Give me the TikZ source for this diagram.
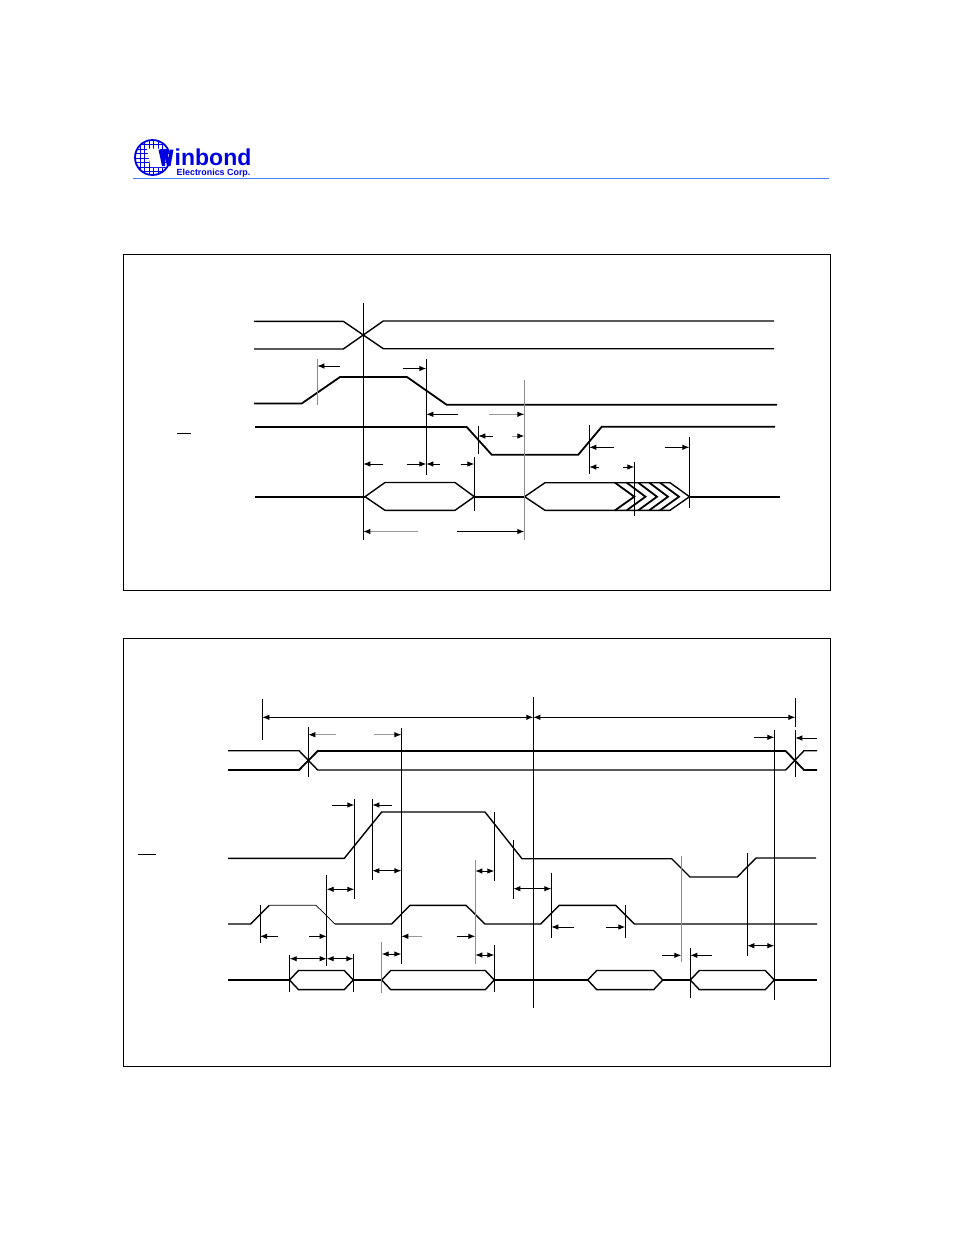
\documentclass[tikz,border=0pt]{standalone}
\usepackage{fontspec}
\setmainfont{Liberation Sans}
\usetikzlibrary{arrows.meta}
\definecolor{wbblue}{RGB}{0,0,225}
\definecolor{wbrule}{RGB}{70,130,240}
\tikzset{
	panel/.style={draw=black,line width=0.7pt},
	sig/.style={draw=black,line width=1.4pt},
	thick sig/.style={draw=black,line width=1.8pt},
	guide/.style={draw=black,line width=0.9pt},
	pale/.style={draw=black!45,line width=0.9pt},
	dim/.style={draw=black,line width=0.9pt,-{Latex[length=7pt,width=5.5pt]}},
	dimpale/.style={draw=black!40,line width=0.9pt,-{Latex[black,length=7pt,width=5.5pt]}},
	both/.style={draw=black,line width=0.9pt,{Latex[length=7pt,width=5.5pt]}-{Latex[length=7pt,width=5.5pt]}}
}

\begin{document}
\begin{tikzpicture}[x=1pt,y=-1pt]
\useasboundingbox (0,0) rectangle (954,1235);
% logo
\begin{scope}
	\clip (152.5,157.5) circle (17.5);
	\foreach \t in {140,144.5,...,176} {
		\draw[wbblue,line width=0.6pt] (135,\t) -- (170,\t);
		\draw[wbblue,line width=0.6pt] (\t-4.5,139) -- (\t-4.5,176);
	}
	\fill[white] (147,148.5) -- (160,148.5) -- (164,167) -- (150.5,167) -- cycle;
\end{scope}
\draw[wbblue,line width=1.8pt] (152.5,157.5) circle (17.5);
\fill[wbblue] (158.5,149.5) -- (167.5,149.5) -- (168.5,159) -- (170,149.5) -- (173.5,149.5) -- (170.5,166) -- (167,166) -- (165.5,158) -- (165,166) -- (162,166) -- cycle;
\node[anchor=base west,text=wbblue,font=\bfseries\fontsize{23}{23}\selectfont,inner sep=0pt] (logoname) at (174.5,165) {inbond};
\node[anchor=base west,text=wbblue,font=\bfseries\fontsize{8.9}{9}\selectfont,inner sep=0pt] (logosub) at (176.5,175) {Electronics Corp.};
\draw[wbrule,line width=0.8pt] (133,178.5) -- (829,178.5);
% boxes
\draw[panel] (123.5,254.5) rectangle (830.5,590.5);
\draw[panel] (123.5,638.5) rectangle (830.5,1066.5);

% first box: signals
\draw[sig] (254,321.3) -- (343.3,321.3) -- (383.3,348.7) -- (774,348.7);
\draw[sig] (254,349) -- (343.3,349) -- (383.3,321) -- (774,321);
\draw[thick sig] (254,403.5) -- (301.7,403.5) -- (340,377) -- (407,377) -- (446.7,404.8) -- (777,404.8);
\draw[thick sig] (255,427) -- (466.7,427) -- (491.7,454.7) -- (578.3,454.7) -- (601.7,426.8) -- (775,426.8);
\draw[thick sig] (255,496.7) -- (365,496.7);
\draw[sig] (365,496.7) -- (385,482.5) -- (455,482.5) -- (474.3,496.7) -- (455,510.3) -- (385,510.3) -- cycle;
\draw[thick sig] (474.3,496.7) -- (524.6,496.7);
\draw[sig] (524.6,496.7) -- (545,482.7) -- (670,482.7) -- (689.5,496.7) -- (670,510.3) -- (545,510.3) -- cycle;
\foreach \a/\b in {615/634.3,626.7/645.5,638.3/657,649.3/668,660/679} {
	\draw[thick sig] (\a,482.7) -- (\b,496.7) -- (\a,510.3);
}
\draw[thick sig] (689.5,496.7) -- (780,496.7);
\draw[line width=1.2pt] (177,433.5) -- (191,433.5);
% first box: guides
\foreach \x/\a/\b in {363.3/303/540,426.3/359/475,478.3/426/454,474.3/457/510.7,589.3/425/474.3,634.3/461.7/516,689.3/436.7/508.3} {
	\draw[guide] (\x,\a) -- (\x,\b);
}
\foreach \x/\a/\b in {317.3/359/405,524.3/380/540} {
	\draw[pale] (\x,\a) -- (\x,\b);
}
% first box: arrows
\foreach \a/\b/\y in {340/317.3/366,402.7/426.3/368.5,458/426.3/414.3,492.7/478.3/436,383/363.3/464,406.7/426.3/464,440/426.3/464,460.7/474.3/464,614/589.3/447.3,665/689.3/447.3,599.3/589.3/467,623.3/634.3/467,456.7/524.3/531.5} {
	\draw[dim] (\a,\y) -- (\b,\y);
}
\foreach \a/\b/\y in {489/524.3/414.3,511.7/524.3/436,418/363.3/531.5} {
	\draw[dimpale] (\a,\y) -- (\b,\y);
}

% second box: signals
\draw[sig] (228,750.7) -- (299,750.7) -- (317.7,770) -- (785.7,770) -- (804,750.7) -- (817,750.7);
\draw[thick sig] (228,770) -- (299,770) -- (317.7,751) -- (785.7,751) -- (804,770) -- (817,770);
\draw[sig] (228,858.3) -- (344.3,858.3) -- (381.7,812) -- (485,812) -- (522,858.7) -- (671.7,858.7) -- (690,877) -- (737.3,877) -- (756,858) -- (816,858);
\draw[sig] (228,924) -- (250.7,924) -- (269.3,905.3);
\draw[line width=0.7pt] (269.3,905.3) -- (316,905.3) -- (335,924);
\draw[sig] (335,924) -- (391.7,924) -- (410,905.3) -- (466,905.3) -- (485,924) -- (540.7,924) -- (559.3,905.3) -- (615.7,905.3) -- (634.3,924) -- (817,924);
\draw[sig] (228,980) -- (289.5,980);
\foreach \a/\b in {289.5/353.3,381.7/494.3,587.7/662.7,690.3/774.3} {
	\draw[sig] (\a,980) -- (\a+9,970.5) -- (\b-9,970.5) -- (\b,980) -- (\b-9,989.6) -- (\a+9,989.6) -- cycle;
}
\draw[sig] (353.3,980) -- (381.7,980);
\draw[sig] (494.3,980) -- (587.7,980);
\draw[sig] (662.7,980) -- (690.3,980);
\draw[sig] (774.3,980) -- (816.7,980);
\draw[line width=1pt] (138.3,854) -- (156,854);
% second box: guides
\foreach \x/\a/\b in {262.3/699/740,533.3/697/1008,795.3/698/726.7,795.3/730/776.7,308.3/727.3/777.3,401.3/728/964,774.3/730/1000,354.3/799.3/899.3,372.3/799.3/880,326.7/875/966,260/905/942.7,494.3/812.3/880.7,494.3/945/991.7,513.3/840/899.3,551.3/872.7/938.3,625.3/905/938.3,690.3/948.3/997.7,747.3/853.3/955.7,289.7/955/991.7,353.3/954.3/991.7} {
	\draw[guide] (\x,\a) -- (\x,\b);
}
\foreach \x/\a/\b in {475.3/860/964,681.3/856/961.7,381.7/942.3/993} {
	\draw[pale] (\x,\a) -- (\x,\b);
}
% second box: arrows
\foreach \a/\b/\y in {754.3/774.3/737.3,817/795.3/738,332.3/354.3/805,391.7/372.3/805,278.3/260/936.3,309/326.7/936.3,456.7/475.3/936.3,574.3/551.3/927,605.7/625.3/927,662/681.3/955.3,712/690.3/955.3} {
	\draw[dim] (\a,\y) -- (\b,\y);
}
\foreach \a/\b/\y in {335.7/308.3/734.7,374/401.3/734.7,422.3/401.3/936.3} {
	\draw[dimpale] (\a,\y) -- (\b,\y);
}
\foreach \a/\b/\y in {262.3/533.3/717.3,533.3/795.3/717.3,372.3/401.3/870.7,326.7/354.3/889.3,475.3/494.3/871,475.3/494.3/955,513.3/551.3/888.7,747.3/774.3/945.7,289.7/326.7/958.7,326.7/353.3/958.7,381.7/401.3/954} {
	\draw[both] (\a,\y) -- (\b,\y);
}
\end{tikzpicture}
\end{document}
